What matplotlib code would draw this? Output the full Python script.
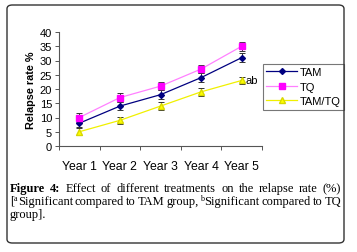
import numpy as np
import matplotlib
matplotlib.use('Agg')
import matplotlib.pyplot as plt
from matplotlib.patches import FancyBboxPatch

years = ["Year 1", "Year 2", "Year 3", "Year 4", "Year 5"]
tam = [8, 14, 18, 24, 31]
tq = [10, 17, 21, 27, 35]
tamtq = [5, 9, 14, 19, 23]
tam_err = [1.5, 1.5, 1.5, 1.5, 1.5]
tq_err = [1.5, 1.5, 1.5, 1.5, 1.5]
tamtq_err = [1.3, 1.3, 1.3, 1.3, 1.3]

plt.rcParams['font.family'] = ['Liberation Sans', 'DejaVu Sans']

W, H = 357, 253
fig = plt.figure(figsize=(W / 100, H / 100), dpi=100)

# outer rounded frame
frame = FancyBboxPatch((7 / W, 1 - 244 / H), 337 / W, 238 / H,
                       boxstyle="round,pad=0,rounding_size=0.015",
                       transform=fig.transFigure, fill=False,
                       edgecolor='#333333', linewidth=1.0)
fig.patches.append(frame)

ax = fig.add_axes([59 / W, 1 - 147 / H, 203 / W, 114 / H])
x = np.arange(len(years)) + 0.5

ebkw = dict(fmt='none', ecolor='#333333', elinewidth=0.7, capsize=2.2, capthick=0.7)
ax.errorbar(x, tam, yerr=tam_err, **ebkw)
ax.errorbar(x, tq, yerr=tq_err, **ebkw)
ax.errorbar(x, tamtq, yerr=tamtq_err, **ebkw)
ax.plot(x, tam, color='#000080', marker='D', markersize=3, linewidth=0.9, label='TAM')
ax.plot(x, tq, color='#FF80FF', marker='s', markersize=4,
        markerfacecolor='#FF00FF', markeredgecolor='#FF00FF',
        linewidth=0.9, label='TQ')
ax.plot(x, tamtq, color='#F0F000', marker='^', markersize=4.5,
        markerfacecolor='#FFFF00', markeredgecolor='#D8D800',
        linewidth=0.9, label='TAM/TQ')

ax.text(x[-1] + 0.1, tamtq[-1], "ab", fontsize=8, ha='left', va='center')

ax.set_xlim(0, len(years))
ax.set_ylim(0, 40)
ax.set_yticks(np.arange(0, 41, 5))
ax.set_xticks(np.arange(len(years) + 1))
ax.set_xticklabels([])
ax.set_xticks(x, minor=True)
ax.set_xticklabels(years, minor=True, fontsize=8.8)
ax.tick_params(axis='x', which='minor', length=0, pad=10)
ax.tick_params(axis='x', which='major', length=3, width=0.7, color='#555555')
ax.tick_params(axis='y', labelsize=8, length=3, width=0.7, color='#555555', pad=2)
for s in ['top', 'right']:
    ax.spines[s].set_visible(False)
for s in ['left', 'bottom']:
    ax.spines[s].set_color('#555555')
    ax.spines[s].set_linewidth(0.8)
ax.set_ylabel("Relapse rate %", fontsize=7.8, fontweight='bold', labelpad=3)

leg = ax.legend(loc='upper left', bbox_to_anchor=(263 / W, 1 - 65 / H),
                bbox_transform=fig.transFigure, fontsize=8, frameon=True,
                fancybox=False, edgecolor='#555555', handlelength=2.8,
                borderpad=0.3, labelspacing=0.4, handletextpad=0.2,
                borderaxespad=0)
leg.get_frame().set_linewidth(0.8)

# caption, justified lines
serif = ['Liberation Serif', 'DejaVu Serif']
fs = 9.0
fig.canvas.draw()
renderer = fig.canvas.get_renderer()


def justify(words, y, x0=10, x1=341):
    # each word: list of (text, bold, superscript)
    groups = []
    for word in words:
        parts = []
        for txt, bold, sup in word:
            t = fig.text(0, 1 - (y - (3 if sup else 0)) / H, txt,
                         fontsize=fs * (0.65 if sup else 1), family=serif,
                         fontweight='bold' if bold else 'normal',
                         va='center', ha='left')
            parts.append((t, t.get_window_extent(renderer).width))
        groups.append(parts)
    widths = [sum(w for _, w in g) for g in groups]
    gap = (x1 - x0 - sum(widths)) / (len(groups) - 1)
    pos = x0
    for g, wd in zip(groups, widths):
        p = pos
        for t, w in g:
            t.set_x(p / W)
            p += w
        pos += wd + gap


line1 = [[("Figure", True, False)], [("4:", True, False)]] + \
        [[(w, False, False)] for w in
         "Effect of different treatments on the relapse rate (%)".split()]
line2 = [[("[", False, False), ("a", False, True), ("Significant", False, False)]] + \
        [[(w, False, False)] for w in ["compared", "to", "TAM", "group,"]] + \
        [[("b", False, True), ("Significant", False, False)]] + \
        [[(w, False, False)] for w in ["compared", "to", "TQ"]]
justify(line1, 189)
justify(line2, 202)
fig.text(10 / W, 1 - 215 / H, "group].", fontsize=fs, family=serif, va='center')

fig.savefig('out.png', dpi=100)
